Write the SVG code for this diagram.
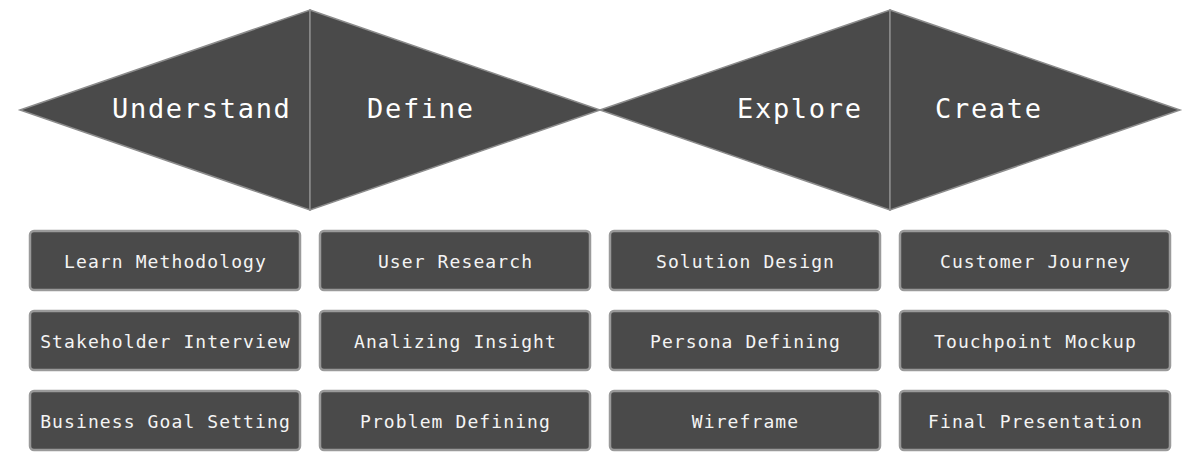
<svg xmlns="http://www.w3.org/2000/svg" width="1200" height="460" viewBox="0 0 1200 460">
<style>
.tri{fill:#4a4a4a;stroke:#8c8c8c;stroke-width:1.5;stroke-linejoin:miter}
.phase{font-family:"DejaVu Sans Mono","Liberation Mono",monospace;font-size:27px;letter-spacing:1.7px;fill:#ffffff}
.box rect{fill:#4a4a4a;stroke:#9a9a9a;stroke-width:2.5}
.box text{font-family:"DejaVu Sans Mono","Liberation Mono",monospace;font-size:18px;letter-spacing:1.1px;fill:#f4f4f4;text-anchor:middle}
</style>
<rect width="1200" height="460" fill="#ffffff"/>
<g id="diamond-discover">
<polygon class="tri" points="20,110 310,10 310,210"/>
<polygon class="tri" points="310,10 600,110 310,210"/>
</g>
<g id="diamond-develop">
<polygon class="tri" points="600,110 890,10 890,210"/>
<polygon class="tri" points="890,10 1180,110 890,210"/>
</g>
<g id="phase-understand"><text class="phase" x="112" y="118">Understand</text></g>
<g id="phase-define"><text class="phase" x="367" y="118">Define</text></g>
<g id="phase-explore"><text class="phase" x="737" y="118">Explore</text></g>
<g id="phase-create"><text class="phase" x="935" y="118">Create</text></g>

<g id="box-learn" class="box"><rect x="30" y="231" width="270" height="59" rx="4"/><text x="165.5" y="268">Learn Methodology</text></g>
<g id="box-stakeholder" class="box"><rect x="30" y="311" width="270" height="59" rx="4"/><text x="165.5" y="348">Stakeholder Interview</text></g>
<g id="box-business" class="box"><rect x="30" y="391" width="270" height="59" rx="4"/><text x="165.5" y="428">Business Goal Setting</text></g>

<g id="box-user" class="box"><rect x="320" y="231" width="270" height="59" rx="4"/><text x="455.5" y="268">User Research</text></g>
<g id="box-analizing" class="box"><rect x="320" y="311" width="270" height="59" rx="4"/><text x="455.5" y="348">Analizing Insight</text></g>
<g id="box-problem" class="box"><rect x="320" y="391" width="270" height="59" rx="4"/><text x="455.5" y="428">Problem Defining</text></g>

<g id="box-solution" class="box"><rect x="610" y="231" width="270" height="59" rx="4"/><text x="745.5" y="268">Solution Design</text></g>
<g id="box-persona" class="box"><rect x="610" y="311" width="270" height="59" rx="4"/><text x="745.5" y="348">Persona Defining</text></g>
<g id="box-wireframe" class="box"><rect x="610" y="391" width="270" height="59" rx="4"/><text x="745.5" y="428">Wireframe</text></g>

<g id="box-journey" class="box"><rect x="900" y="231" width="270" height="59" rx="4"/><text x="1035.5" y="268">Customer Journey</text></g>
<g id="box-touchpoint" class="box"><rect x="900" y="311" width="270" height="59" rx="4"/><text x="1035.5" y="348">Touchpoint Mockup</text></g>
<g id="box-final" class="box"><rect x="900" y="391" width="270" height="59" rx="4"/><text x="1035.5" y="428">Final Presentation</text></g>
<g id="connectors"/>
</svg>
